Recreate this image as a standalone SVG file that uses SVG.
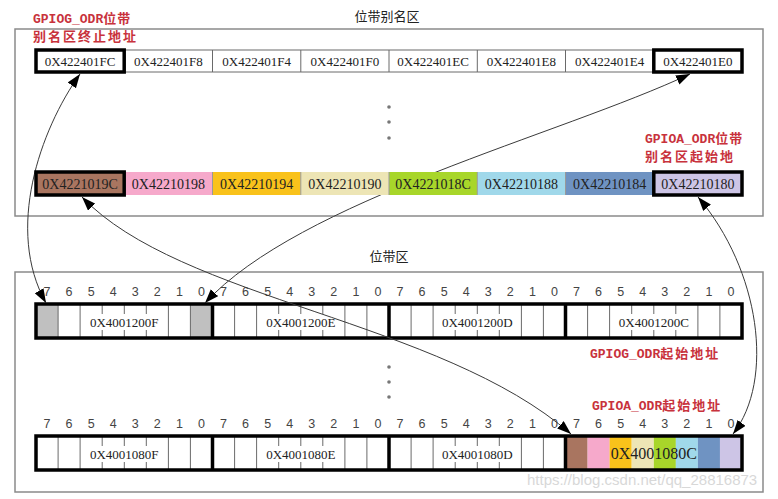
<svg xmlns="http://www.w3.org/2000/svg" width="778" height="499" viewBox="0 0 778 499">
<defs>
<marker id="ah" markerUnits="userSpaceOnUse" markerWidth="15" markerHeight="11" refX="14" refY="5" orient="auto-start-reverse"><path d="M0,0 L14,5 L0,10 z" fill="#000"/></marker>
<style>
.frame{fill:none;stroke:#8a8a8a;stroke-width:1.5}
.title{font-family:"Noto Sans CJK SC",sans-serif;font-size:13px;fill:#222;text-anchor:middle}
.cell{fill:#fff;stroke:#6a6a6a;stroke-width:1}
.thick{fill:none;stroke:#000;stroke-width:3.5}
.addr{font-family:"Liberation Serif",serif;font-size:13px;fill:#222;text-anchor:middle}
.addr2{font-family:"Liberation Serif",serif;font-size:14px;fill:#222;text-anchor:middle}
.bit{font-family:"Liberation Sans",sans-serif;font-size:12.5px;fill:#444;text-anchor:middle}
.thin{fill:none;stroke:#6a6a6a;stroke-width:1}
.red{font-family:"Liberation Mono","Noto Sans CJK SC",monospace;font-weight:bold;font-size:13px;fill:#c8323c}
.conn{fill:none;stroke:#3a3a3a;stroke-width:1;marker-start:url(#ah);marker-end:url(#ah)}
.dot{fill:#777}
.mask{fill:#fff}
</style>
</defs>
<rect width="778" height="499" fill="#fff"/>

<g id="alias-region">
<rect class="frame" x="15" y="29" width="748" height="187"/>
<text class="title" x="387" y="21">位带别名区</text>
<circle class="dot" cx="389" cy="107" r="1.8"/>
<circle class="dot" cx="389" cy="122" r="1.8"/>
<circle class="dot" cx="389" cy="138" r="1.8"/>
</g>

<g id="bitband-region">
<rect class="frame" x="15" y="272" width="748" height="220"/>
<text class="title" x="389" y="261">位带区</text>
<circle class="dot" cx="389" cy="367" r="1.8"/>
<circle class="dot" cx="389" cy="382" r="1.8"/>
<circle class="dot" cx="389" cy="397" r="1.8"/>
</g>

<g id="bitrow1">
<text class="bit" x="47 69.1 91.2 113.2 135.3 157.3 179.4 201.5 223.5 245.6 267.7 289.7 311.8 333.8 355.9 378 400 422.1 444.2 466.2 488.3 510.3 532.4 554.5 576.5 598.6 620.7 642.7 664.8 686.8 708.9 731" y="296">76543210765432107654321076543210</text>
<rect x="36" y="304" width="706" height="34" fill="#fff"/>
<rect x="36" y="304" width="22.1" height="34" fill="#c0c0c0"/>
<rect x="190.4" y="304" width="22.1" height="34" fill="#c0c0c0"/>
<path class="thin" d="M58.1 304V338M80.1 304V338M102.2 304V338M124.3 304V338M146.3 304V338M168.4 304V338M190.4 304V338M234.6 304V338M256.6 304V338M278.7 304V338M300.8 304V338M322.8 304V338M344.9 304V338M366.9 304V338M411.1 304V338M433.1 304V338M455.2 304V338M477.3 304V338M499.3 304V338M521.4 304V338M543.4 304V338M587.6 304V338M609.6 304V338M631.7 304V338M653.8 304V338M675.8 304V338M697.9 304V338M719.9 304V338"/>
<rect class="mask" x="87" y="314" width="75" height="16"/>
<rect class="mask" x="263" y="314" width="75" height="16"/>
<rect class="mask" x="440" y="314" width="75" height="16"/>
<rect class="mask" x="616" y="314" width="75" height="16"/>
<text class="addr" x="124.3" y="327">0X4001200F</text>
<text class="addr" x="300.8" y="327">0X4001200E</text>
<text class="addr" x="477.3" y="327">0X4001200D</text>
<text class="addr" x="653.8" y="327">0X4001200C</text>
<rect class="thick" x="36" y="304" width="706" height="34"/>
<path class="thick" d="M212.5 304V338M389 304V338M565.5 304V338"/>
<text class="red" x="590" y="358">GPIOG_ODR<tspan letter-spacing="2">起始地址</tspan></text>
</g>

<g id="bitrow2">
<text class="bit" x="47 69.1 91.2 113.2 135.3 157.3 179.4 201.5 223.5 245.6 267.7 289.7 311.8 333.8 355.9 378 400 422.1 444.2 466.2 488.3 510.3 532.4 554.5 576.5 598.6 620.7 642.7 664.8 686.8 708.9 731" y="428">76543210765432107654321076543210</text>
<rect x="36" y="436" width="706" height="34" fill="#fff"/>
<path class="thin" d="M58.1 436V470M80.1 436V470M102.2 436V470M124.3 436V470M146.3 436V470M168.4 436V470M190.4 436V470M234.6 436V470M256.6 436V470M278.7 436V470M300.8 436V470M322.8 436V470M344.9 436V470M366.9 436V470M411.1 436V470M433.1 436V470M455.2 436V470M477.3 436V470M499.3 436V470M521.4 436V470M543.4 436V470"/>
<rect class="mask" x="87" y="446" width="75" height="16"/>
<rect class="mask" x="263" y="446" width="75" height="16"/>
<rect class="mask" x="440" y="446" width="75" height="16"/>
<text class="addr" x="124.3" y="459">0X4001080F</text>
<text class="addr" x="300.8" y="459">0X4001080E</text>
<text class="addr" x="477.3" y="459">0X4001080D</text>
<rect x="565.5" y="436" width="22.1" height="34" fill="#a97560"/>
<rect x="587.6" y="436" width="22.1" height="34" fill="#f6a9cb"/>
<rect x="609.6" y="436" width="22.1" height="34" fill="#f9c21b"/>
<rect x="631.7" y="436" width="22.1" height="34" fill="#ede5b5"/>
<rect x="653.8" y="436" width="22.1" height="34" fill="#a8d62a"/>
<rect x="675.8" y="436" width="22.1" height="34" fill="#a0d8ea"/>
<rect x="697.9" y="436" width="22.1" height="34" fill="#6f93c2"/>
<rect x="719.9" y="436" width="22.1" height="34" fill="#cdc5e6"/>
<text class="addr" x="653.8" y="459" style="font-size:16px">0X4001080C</text>
<rect class="thick" x="36" y="436" width="706" height="34"/>
<path class="thick" d="M212.5 436V470M389 436V470M565.5 436V470"/>
<text class="red" x="592" y="410">GPIOA_ODR<tspan letter-spacing="2">起始地址</tspan></text>
</g>

<g id="connectors">
<path class="conn" d="M80,74 C40,130 5,230 46,303"/>
<path class="conn" d="M690,74 C560,135 300,200 205,303"/>
<path class="conn" d="M82,197 C180,300 440,320 571,434"/>
<path class="conn" d="M698,197 C760,270 775,380 733,434"/>
</g>

<g id="alias-row-top">
<rect class="cell" x="36" y="50" width="706" height="22"/>
<path class="thin" d="M212.5 50V72M300.8 50V72M389 50V72M477.3 50V72M565.5 50V72"/>
<text class="addr" x="80.1" y="66">0X422401FC</text>
<text class="addr" x="168.4" y="66">0X422401F8</text>
<text class="addr" x="256.6" y="66">0X422401F4</text>
<text class="addr" x="344.9" y="66">0X422401F0</text>
<text class="addr" x="433.1" y="66">0X422401EC</text>
<text class="addr" x="521.4" y="66">0X422401E8</text>
<text class="addr" x="609.6" y="66">0X422401E4</text>
<text class="addr" x="697.9" y="66">0X422401E0</text>
<rect class="thick" x="36" y="50" width="88.2" height="22"/>
<rect class="thick" x="653.8" y="50" width="88.2" height="22"/>
<text class="red" x="33" y="23">GPIOG_ODR<tspan letter-spacing="1">位带</tspan></text>
<text class="red" x="33" y="41" letter-spacing="2">别名区终止地址</text>
</g>

<g id="alias-row-bottom">
<rect x="36" y="172" width="88.2" height="23" fill="#a97560"/>
<rect x="124.2" y="172" width="88.3" height="23" fill="#f6a9cb"/>
<rect x="212.5" y="172" width="88.3" height="23" fill="#f9c21b"/>
<rect x="300.8" y="172" width="88.2" height="23" fill="#ede5b5"/>
<rect x="389" y="172" width="88.3" height="23" fill="#a8d62a"/>
<rect x="477.3" y="172" width="88.2" height="23" fill="#a0d8ea"/>
<rect x="565.5" y="172" width="88.3" height="23" fill="#6f93c2"/>
<rect x="653.8" y="172" width="88.2" height="23" fill="#cdc5e6"/>
<path class="thin" d="M212.5 172V195M300.8 172V195M389 172V195M477.3 172V195M565.5 172V195" style="stroke:#999"/>
<text class="addr2" x="80.1" y="189">0X4221019C</text>
<text class="addr2" x="168.4" y="189">0X42210198</text>
<text class="addr2" x="256.6" y="189">0X42210194</text>
<text class="addr2" x="344.9" y="189">0X42210190</text>
<text class="addr2" x="433.1" y="189">0X4221018C</text>
<text class="addr2" x="521.4" y="189">0X42210188</text>
<text class="addr2" x="609.6" y="189">0X42210184</text>
<text class="addr2" x="697.9" y="189">0X42210180</text>
<rect class="thick" x="36" y="172" width="88.2" height="23"/>
<rect class="thick" x="653.8" y="172" width="88.2" height="23"/>
<text class="red" x="645" y="143">GPIOA_ODR<tspan letter-spacing="1">位带</tspan></text>
<text class="red" x="645" y="161" letter-spacing="2">别名区起始地</text>
</g>

<text x="527" y="485" style="font-family:'Liberation Sans',sans-serif;font-size:15px;fill:#d8d8d8">https://blog.csdn.net/qq_28816873</text>
</svg>
